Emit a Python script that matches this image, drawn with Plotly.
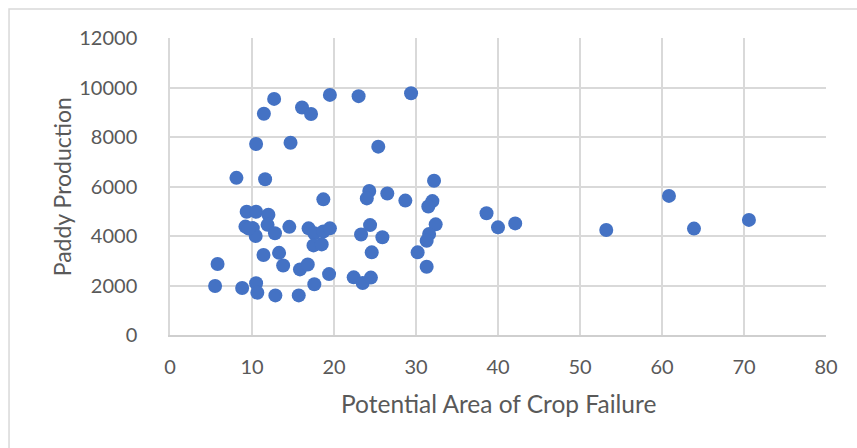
import plotly.graph_objects as go

# Potential Area of Crop Failure (x) vs Paddy Production (y)
crop_failure = [
    5.5, 5.8, 8.1, 8.8, 9.35, 10.5, 12.0, 9.2, 10.1, 10.45,
    11.9, 12.8, 14.55, 16.9, 17.6, 18.7, 19.5, 17.5, 18.5, 11.4,
    13.3, 13.8, 15.85, 16.8, 19.4, 17.6, 10.5, 10.65, 12.85, 15.7,
    11.45, 12.7, 16.1, 17.2, 19.5, 23.0, 29.4, 10.5, 14.7, 25.4,
    11.6, 32.2, 18.7, 24.3, 24.0, 26.5, 28.7, 32.0, 31.5, 38.6,
    40.0, 42.1, 53.2, 60.85, 63.9, 70.6, 32.4, 31.6, 31.3, 24.4,
    23.3, 25.9, 24.6, 30.2, 31.3, 22.4, 23.5, 24.5, 9.6,
]
paddy_production = [
    1980, 2870, 6350, 1900, 4980, 4980, 4860, 4380, 4320, 4000,
    4450, 4110, 4370, 4310, 4110, 4180, 4310, 3620, 3660, 3230,
    3320, 2810, 2650, 2850, 2460, 2050, 2090, 1710, 1600, 1600,
    8940, 9540, 9190, 8930, 9700, 9650, 9765, 7720, 7770, 7610,
    6290, 6230, 5480, 5820, 5520, 5720, 5430, 5410, 5190, 4920,
    4350, 4510, 4240, 5620, 4300, 4650, 4470, 4080, 3810, 4440,
    4060, 3950, 3340, 3340, 2760, 2330, 2100, 2320, 4300,
]

x_ticks = [0, 10, 20, 30, 40, 50, 60, 70, 80]
y_ticks = [0, 2000, 4000, 6000, 8000, 10000, 12000]
x_title = "Potential Area of Crop Failure"
y_title = "Paddy Production"

GRID = "#D9D9D9"
TICK_FONT = dict(family="Lato, Open Sans, sans-serif", size=20, color="#595959")
X_TITLE_FONT = dict(family="Lato, Open Sans, sans-serif", size=24.5, color="#595959")
Y_TITLE_FONT = dict(family="Lato, Open Sans, sans-serif", size=23, color="#595959")

fig = go.Figure(
    go.Scatter(
        x=crop_failure,
        y=paddy_production,
        mode="markers",
        marker=dict(size=14, color="#4472C4", line=dict(width=0)),
        hoverinfo="x+y",
    )
)

fig.update_layout(
    width=857,
    height=448,
    margin=dict(l=170, r=31, t=38, b=113),
    paper_bgcolor="white",
    plot_bgcolor="white",
    showlegend=False,
    xaxis=dict(
        range=[0, 80],
        tickmode="array",
        tickvals=x_ticks,
        ticktext=[str(v) for v in x_ticks],
        showgrid=True,
        gridcolor=GRID,
        gridwidth=1.5,
        zeroline=False,
        showline=True,
        linecolor="#CFCFCF",
        linewidth=1.5,
        mirror=False,
        ticks="",
        ticklabelstandoff=13,
        tickfont=TICK_FONT,
        fixedrange=True,
    ),
    yaxis=dict(
        range=[0, 12000],
        tickmode="array",
        tickvals=y_ticks,
        ticktext=[str(v) for v in y_ticks],
        showgrid=True,
        gridcolor=GRID,
        gridwidth=1.5,
        zeroline=False,
        showline=True,
        linecolor=GRID,
        linewidth=1.5,
        ticks="",
        ticklabelstandoff=27,
        tickfont=TICK_FONT,
        fixedrange=True,
    ),
    shapes=[
        dict(
            type="rect", xref="paper", yref="paper",
            x0=-0.2454, x1=1.5, y0=-1.0, y1=1.0976,
            line=dict(color=GRID, width=1.5), fillcolor="rgba(0,0,0,0)",
            layer="below",
        )
    ],
    annotations=[
        dict(
            text=x_title, xref="paper", yref="paper", x=0.5, y=-0.229,
            xanchor="center", yanchor="middle", showarrow=False, font=X_TITLE_FONT,
        ),
        dict(
            text=y_title, xref="paper", yref="paper", x=-0.165, y=0.5,
            xanchor="center", yanchor="middle", textangle=-90, showarrow=False,
            font=Y_TITLE_FONT,
        ),
    ],
)

fig.write_html("out.html")
